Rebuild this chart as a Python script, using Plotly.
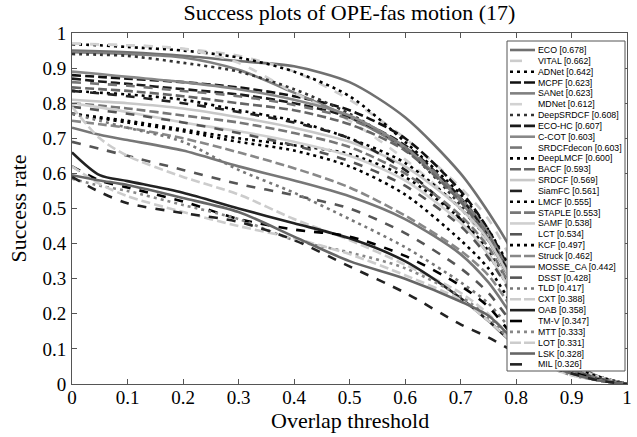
import plotly.graph_objects as go

X = [0, 0.05, 0.1, 0.2, 0.3, 0.4, 0.5, 0.6, 0.7, 0.75, 0.8, 0.85, 0.9, 0.95, 1.0]

names = ["ECO", "VITAL", "ADNet", "MCPF", "SANet", "MDNet", "DeepSRDCF", "ECO-HC", "C-COT",
         "SRDCFdecon", "DeepLMCF", "BACF", "SRDCF", "SiamFC", "LMCF", "STAPLE", "SAMF", "LCT",
         "KCF", "Struck", "MOSSE_CA", "DSST", "TLD", "CXT", "OAB", "TM-V", "MTT", "LOT", "LSK", "MIL"]
scores = ["0.678", "0.662", "0.642", "0.623", "0.623", "0.612", "0.608", "0.607", "0.603",
          "0.603", "0.600", "0.593", "0.569", "0.561", "0.555", "0.553", "0.538", "0.534",
          "0.497", "0.462", "0.442", "0.428", "0.417", "0.388", "0.358", "0.347", "0.333",
          "0.331", "0.328", "0.326"]

ECO = [0.95, 0.948, 0.945, 0.935, 0.92, 0.905, 0.86, 0.76, 0.60, 0.49, 0.36, 0.20, 0.07, 0.02, 0]
VITAL = [0.97, 0.968, 0.965, 0.955, 0.935, 0.89, 0.81, 0.70, 0.56, 0.47, 0.33, 0.17, 0.06, 0.02, 0]
ADNet = [0.968, 0.965, 0.96, 0.95, 0.93, 0.89, 0.82, 0.69, 0.54, 0.44, 0.30, 0.15, 0.055, 0.02, 0]
MCPF = [0.88, 0.875, 0.87, 0.86, 0.845, 0.82, 0.78, 0.70, 0.55, 0.44, 0.29, 0.14, 0.055, 0.02, 0]
SANet = [0.945, 0.943, 0.94, 0.93, 0.895, 0.83, 0.76, 0.67, 0.53, 0.43, 0.28, 0.14, 0.055, 0.02, 0]
MDNet = [0.97, 0.967, 0.965, 0.955, 0.915, 0.83, 0.75, 0.64, 0.50, 0.40, 0.26, 0.13, 0.05, 0.02, 0]
DeepSRDCF = [0.94, 0.938, 0.935, 0.915, 0.89, 0.84, 0.77, 0.67, 0.51, 0.41, 0.27, 0.13, 0.05, 0.02, 0]
ECO_HC = [0.87, 0.862, 0.855, 0.84, 0.825, 0.80, 0.76, 0.68, 0.53, 0.42, 0.28, 0.135, 0.05, 0.02, 0]
C_COT = [0.89, 0.883, 0.875, 0.86, 0.84, 0.81, 0.765, 0.675, 0.52, 0.41, 0.27, 0.13, 0.05, 0.02, 0]
SRDCFdecon = [0.86, 0.855, 0.85, 0.835, 0.82, 0.795, 0.755, 0.675, 0.53, 0.42, 0.275, 0.13, 0.05, 0.02, 0]
DeepLMCF = [0.835, 0.83, 0.825, 0.81, 0.78, 0.75, 0.70, 0.63, 0.50, 0.41, 0.27, 0.13, 0.05, 0.02, 0]
BACF = [0.845, 0.84, 0.835, 0.82, 0.80, 0.78, 0.74, 0.665, 0.52, 0.415, 0.27, 0.13, 0.05, 0.02, 0]
SRDCF = [0.81, 0.805, 0.80, 0.785, 0.76, 0.73, 0.69, 0.62, 0.50, 0.41, 0.27, 0.13, 0.05, 0.02, 0]
SiamFC = [0.835, 0.828, 0.82, 0.80, 0.775, 0.745, 0.70, 0.61, 0.47, 0.37, 0.24, 0.12, 0.05, 0.02, 0]
LMCF = [0.77, 0.76, 0.75, 0.725, 0.70, 0.68, 0.655, 0.59, 0.47, 0.38, 0.24, 0.12, 0.05, 0.02, 0]
STAPLE = [0.80, 0.793, 0.785, 0.765, 0.745, 0.715, 0.675, 0.60, 0.48, 0.39, 0.25, 0.12, 0.05, 0.02, 0]
SAMF = [0.80, 0.788, 0.775, 0.745, 0.72, 0.69, 0.65, 0.58, 0.46, 0.37, 0.24, 0.12, 0.05, 0.02, 0]
LCT = [0.79, 0.78, 0.77, 0.745, 0.715, 0.68, 0.635, 0.565, 0.45, 0.36, 0.235, 0.115, 0.045, 0.015, 0]
KCF = [0.77, 0.757, 0.745, 0.72, 0.69, 0.665, 0.62, 0.54, 0.41, 0.33, 0.21, 0.11, 0.05, 0.02, 0]
Struck = [0.75, 0.74, 0.73, 0.70, 0.66, 0.615, 0.56, 0.48, 0.38, 0.31, 0.20, 0.10, 0.045, 0.015, 0]
MOSSE_CA = [0.73, 0.71, 0.695, 0.665, 0.62, 0.58, 0.535, 0.47, 0.37, 0.29, 0.18, 0.09, 0.04, 0.015, 0]
DSST = [0.69, 0.67, 0.65, 0.61, 0.57, 0.538, 0.50, 0.43, 0.33, 0.26, 0.16, 0.08, 0.04, 0.015, 0]
TLD = [0.77, 0.75, 0.73, 0.69, 0.61, 0.545, 0.47, 0.39, 0.29, 0.23, 0.14, 0.07, 0.035, 0.01, 0]
CXT = [0.79, 0.70, 0.65, 0.59, 0.54, 0.47, 0.41, 0.34, 0.26, 0.20, 0.12, 0.06, 0.03, 0.01, 0]
OAB = [0.66, 0.595, 0.578, 0.545, 0.50, 0.458, 0.415, 0.35, 0.245, 0.18, 0.11, 0.06, 0.03, 0.01, 0]
TM_V = [0.62, 0.58, 0.56, 0.52, 0.47, 0.44, 0.42, 0.365, 0.28, 0.22, 0.13, 0.07, 0.035, 0.012, 0]
MTT = [0.585, 0.565, 0.55, 0.51, 0.47, 0.41, 0.375, 0.33, 0.25, 0.19, 0.11, 0.055, 0.025, 0.01, 0]
LOT = [0.62, 0.57, 0.535, 0.49, 0.45, 0.415, 0.37, 0.31, 0.24, 0.18, 0.11, 0.055, 0.025, 0.01, 0]
LSK = [0.595, 0.58, 0.567, 0.53, 0.49, 0.42, 0.35, 0.30, 0.235, 0.195, 0.12, 0.06, 0.03, 0.01, 0]
MIL = [0.59, 0.547, 0.515, 0.487, 0.462, 0.41, 0.335, 0.26, 0.17, 0.133, 0.09, 0.055, 0.03, 0.01, 0]

series = [ECO, VITAL, ADNet, MCPF, SANet, MDNet, DeepSRDCF, ECO_HC, C_COT, SRDCFdecon,
          DeepLMCF, BACF, SRDCF, SiamFC, LMCF, STAPLE, SAMF, LCT, KCF, Struck, MOSSE_CA,
          DSST, TLD, CXT, OAB, TM_V, MTT, LOT, LSK, MIL]

# style: (color, kind)  kind: S solid, A dashed, B long-gap dashed, D dotted
styles = [("#707070", "S"), ("#cccccc", "B"), ("#000000", "D"), ("#111111", "A"),
          ("#808080", "S"), ("#d2d2d2", "B"), ("#333333", "D"), ("#1a1a1a", "A"),
          ("#888888", "S"), ("#777777", "B"), ("#000000", "D"), ("#666666", "A"),
          ("#c8c8c8", "S"), ("#222222", "B"), ("#000000", "D"), ("#777777", "A"),
          ("#d0d0d0", "S"), ("#555555", "B"), ("#000000", "D"), ("#888888", "A"),
          ("#777777", "S"), ("#555555", "B"), ("#777777", "D"), ("#cccccc", "A"),
          ("#222222", "S"), ("#000000", "B"), ("#888888", "D"), ("#cccccc", "A"),
          ("#666666", "S"), ("#222222", "B")]

dash_map = {"S": "solid", "A": "9px,4px", "B": "9px,9px", "D": "3px,4px"}

fig = go.Figure()
for nm, ys, (col, kind) in zip(names, series, styles):
    fig.add_trace(go.Scatter(x=X, y=ys, mode="lines", name=nm,
                             line=dict(color=col, width=2.6, dash=dash_map[kind],
                                       shape="spline", smoothing=0.8),
                             showlegend=False, hoverinfo="skip"))

# manual legend (MATLAB-style compact box)
def py(p):
    return (384 - p) / 351.0

def px(p):
    return (p - 72) / 555.0

shapes = [dict(type="rect", xref="paper", yref="paper", x0=px(507), x1=px(625),
               y0=py(371), y1=py(41), fillcolor="white", line=dict(color="#555555", width=1),
               layer="above")]
annotations = []
for i, (nm, sc, (col, kind)) in enumerate(zip(names, scores, styles)):
    yy = py(50 + i * 10.84)
    if kind == "S":
        x0, x1, d = 510, 535, "solid"
    elif kind == "A":
        x0, x1, d = 510, 535, "11px,3px"
    elif kind == "B":
        x0, x1, d = 510, 522, "solid"
    else:
        x0, x1, d = 510, 535, "3px,4px"
    shapes.append(dict(type="line", xref="paper", yref="paper", x0=px(x0), x1=px(x1),
                       y0=yy, y1=yy, line=dict(color=col, width=2.6, dash=d), layer="above"))
    annotations.append(dict(xref="paper", yref="paper", x=px(536), y=yy, xanchor="left",
                            yanchor="middle", showarrow=False, text=f"{nm} [{sc}]",
                            font=dict(family="Liberation Sans, Arial", size=8.8, color="#000000")))

# x-axis title placed as annotation (tight MATLAB spacing)
annotations.append(dict(xref="paper", yref="paper", x=0.5, y=py(420), xanchor="center",
                        yanchor="middle", showarrow=False, text="Overlap threshold",
                        font=dict(family="Liberation Serif, Times New Roman", size=22,
                                  color="#000")))

tickvals = [0, 0.1, 0.2, 0.3, 0.4, 0.5, 0.6, 0.7, 0.8, 0.9, 1]
ticktext = ["0", "0.1", "0.2", "0.3", "0.4", "0.5", "0.6", "0.7", "0.8", "0.9", "1"]

axis_common = dict(range=[0, 1], tickvals=tickvals, ticktext=ticktext, ticks="inside",
                   ticklen=5, tickcolor="#555555", showline=True, linecolor="#555555",
                   linewidth=1, mirror="ticks", showgrid=False, zeroline=False,
                   automargin=False,
                   tickfont=dict(family="Liberation Serif, Times New Roman", size=19, color="#000"))

fig.update_layout(
    width=637, height=437,
    margin=dict(l=72, r=10, t=33, b=53),
    paper_bgcolor="white", plot_bgcolor="white",
    title=dict(text="Success plots of OPE-fas motion (17)", x=(72 + 627) / 2 / 637,
               xanchor="center", y=1 - 12 / 437, yanchor="middle",
               font=dict(family="Liberation Serif, Times New Roman", size=22, color="#000")),
    xaxis=dict(**axis_common, ticklabelstandoff=-4),
    yaxis=dict(**axis_common, ticklabelstandoff=1,
               title=dict(text="Success rate", standoff=9,
               font=dict(family="Liberation Serif, Times New Roman", size=22, color="#000"))),
    shapes=shapes, annotations=annotations, showlegend=False,
)

fig.write_html("out.html", config={"displayModeBar": False},
               post_script="document.body.style.margin='0px';")
